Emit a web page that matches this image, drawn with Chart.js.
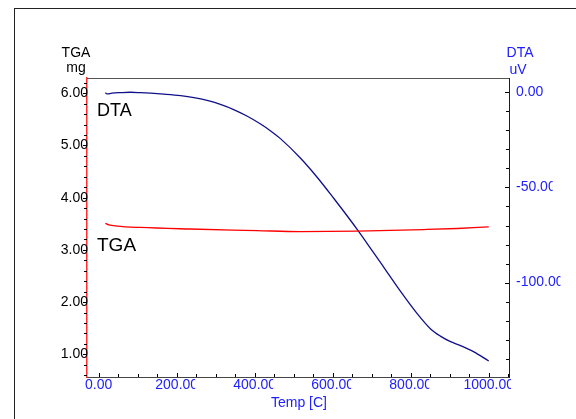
<!DOCTYPE html>
<html>
<head>
<meta charset="utf-8">
<title>TGA / DTA</title>
<script src="https://cdn.jsdelivr.net/npm/chart.js@4.4.0/dist/chart.umd.min.js"></script>
<style>
    html, body { margin: 0; padding: 0; background: #fff; }
    #wrap { width: 576px; height: 419px; position: relative; }
</style>
</head>
<body>
<div id="wrap"><canvas id="tgaChart" width="576" height="419"></canvas></div>
<script>
// ─── TGA / DTA thermogram ───

// DTA signal (uV) against temperature (C)
const dtaTemp = [17, 21, 34, 56, 81, 107, 133, 167, 210, 244, 278, 312, 346, 380, 415, 440, 466,
    517, 560, 603, 645, 665, 697, 731, 773, 816, 851, 876, 902, 923, 945, 962, 1000];
const dtaValue = [-0.1, -0.8, -0.4, -0.1, 0.1, -0.1, -0.4, -0.9, -1.7, -2.7, -4.2, -6.3, -9.0, -12.4, -16.6, -20.1, -24.3,
    -34.5, -44.6, -55.8, -67.1, -72.7, -82.0, -92.0, -104.4, -116.2, -124.4, -128.2, -131.1, -132.8, -134.8, -136.5, -141.3];

// TGA mass (mg) against temperature (C)
const tgaTemp = [17, 26, 47, 107, 235, 406, 517, 663, 748, 833, 919, 1000];
const tgaMass = [3.51, 3.48, 3.457, 3.43, 3.40, 3.37, 3.35, 3.36, 3.375, 3.39, 3.41, 3.44];

// labelled ticks
const tempTicks = [0, 200, 400, 600, 800, 1000];
const massTicks = [1, 2, 3, 4, 5, 6];
const dtaTicks = [0, -50, -100];

const FONT = '"Liberation Sans", Arial, sans-serif';
const BLUE_TEXT = '#2020ff';

function toPoints(xs, ys) {
    return xs.map((x, i) => ({ x, y: ys[i] }));
}

// text with the last few pixels cut off, like the instrument software does
function clippedText(ctx, text, x, y, align) {
    const w = ctx.measureText(text).width;
    const trim = text.length > 4 ? 3 : 0;
    let left = x;
    if (align === 'center') left = x - w / 2;
    if (align === 'right') left = x - w;
    ctx.save();
    ctx.beginPath();
    ctx.rect(left - 2, y - 12, w + 2 - trim, 24);
    ctx.clip();
    ctx.textAlign = 'left';
    ctx.fillText(text, left, y);
    ctx.restore();
}

const decorations = {
    id: 'decorations',
    beforeDraw(chart) {
        const ctx = chart.ctx;
        ctx.save();
        ctx.strokeStyle = '#222';
        ctx.lineWidth = 1;
        ctx.strokeRect(14.5, 8.5, 600, 500);
        ctx.restore();
    },
    afterDraw(chart) {
        const { ctx, chartArea: a, scales } = chart;
        const x = scales.x, y = scales.y, y2 = scales.y2;

        ctx.save();
        // top edge of the plot box
        ctx.strokeStyle = '#555';
        ctx.lineWidth = 1;
        ctx.beginPath();
        ctx.moveTo(a.left, Math.round(a.top) + 0.5);
        ctx.lineTo(a.right, Math.round(a.top) + 0.5);
        ctx.stroke();

        ctx.strokeStyle = '#000';
        ctx.beginPath();
        // temperature ticks, pointing into the plot
        for (let t = 0; t <= x.max; t += 50) {
            const px = Math.round(x.getPixelForValue(t)) + 0.5;
            const len = t % 200 === 0 ? 4 : 3;
            ctx.moveTo(px, a.bottom);
            ctx.lineTo(px, a.bottom - len);
        }
        // mass ticks, outside on the left
        for (let m = 6.2; m >= y.min; m -= 0.2) {
            const py = Math.round(y.getPixelForValue(m)) + 0.5;
            const major = Math.abs(m - Math.round(m)) < 0.01;
            ctx.moveTo(a.left, py);
            ctx.lineTo(a.left - (major ? 4 : 3), py);
        }
        // DTA ticks, inside on the right
        for (let d = 0; d >= y2.min; d -= 10) {
            const py = Math.round(y2.getPixelForValue(d)) + 0.5;
            ctx.moveTo(a.right, py);
            ctx.lineTo(a.right - (d % 50 === 0 ? 4 : 3), py);
        }
        ctx.stroke();

        ctx.font = '14px ' + FONT;
        ctx.textBaseline = 'middle';

        ctx.fillStyle = '#000';
        massTicks.forEach(m => {
            ctx.textAlign = 'right';
            ctx.fillText(m.toFixed(2), a.left + 1, y.getPixelForValue(m));
        });

        ctx.fillStyle = BLUE_TEXT;
        dtaTicks.forEach(d => {
            clippedText(ctx, d.toFixed(2), a.right + 7, y2.getPixelForValue(d), 'left');
        });
        tempTicks.forEach(t => {
            clippedText(ctx, t.toFixed(2), x.getPixelForValue(t), a.bottom + 8, 'center');
        });

        // axis titles
        ctx.textBaseline = 'alphabetic';
        ctx.textAlign = 'center';
        ctx.fillStyle = '#000';
        ctx.fillText('TGA', 76, 57);
        ctx.fillText('mg', 76, 72);
        ctx.fillStyle = BLUE_TEXT;
        ctx.fillText('DTA', 520, 57);
        ctx.fillText('uV', 518, 74);
        ctx.fillText('Temp [C]', (a.left + a.right) / 2 + 1, 407);

        // curve names
        ctx.textAlign = 'left';
        ctx.fillStyle = '#000';
        ctx.font = '18px ' + FONT;
        ctx.fillText('DTA', a.left + 10, 116);
        ctx.font = '19px ' + FONT;
        ctx.fillText('TGA', a.left + 10, 251);
        ctx.restore();
    }
};

new Chart(document.getElementById('tgaChart'), {
    type: 'line',
    data: {
        datasets: [
            {
                label: 'TGA',
                data: toPoints(tgaTemp, tgaMass),
                yAxisID: 'y',
                borderColor: '#ff0000',
                borderWidth: 1.3,
                pointRadius: 0,
                cubicInterpolationMode: 'monotone'
            },
            {
                label: 'DTA',
                data: toPoints(dtaTemp, dtaValue),
                yAxisID: 'y2',
                borderColor: '#10108a',
                borderWidth: 1.3,
                pointRadius: 0,
                cubicInterpolationMode: 'monotone'
            }
        ]
    },
    options: {
        responsive: false,
        animation: false,
        events: [],
        layout: { padding: { left: 87, right: 67, top: 78, bottom: 42 } },
        plugins: {
            legend: { display: false },
            tooltip: { enabled: false }
        },
        scales: {
            x: {
                type: 'linear',
                min: -30,
                max: 1052,
                ticks: { display: false },
                grid: { display: false, drawTicks: false },
                border: { display: true, color: '#444', width: 1 }
            },
            y: {
                position: 'left',
                min: 0.565,
                max: 6.293,
                ticks: { display: false },
                grid: { display: false, drawTicks: false },
                border: { display: true, color: '#ff3030', width: 1.5 }
            },
            y2: {
                position: 'right',
                min: -149.7,
                max: 7.6,
                ticks: { display: false },
                grid: { display: false, drawTicks: false },
                border: { display: true, color: '#0000ff', width: 1 }
            }
        }
    },
    plugins: [decorations]
});
</script>
</body>
</html>
